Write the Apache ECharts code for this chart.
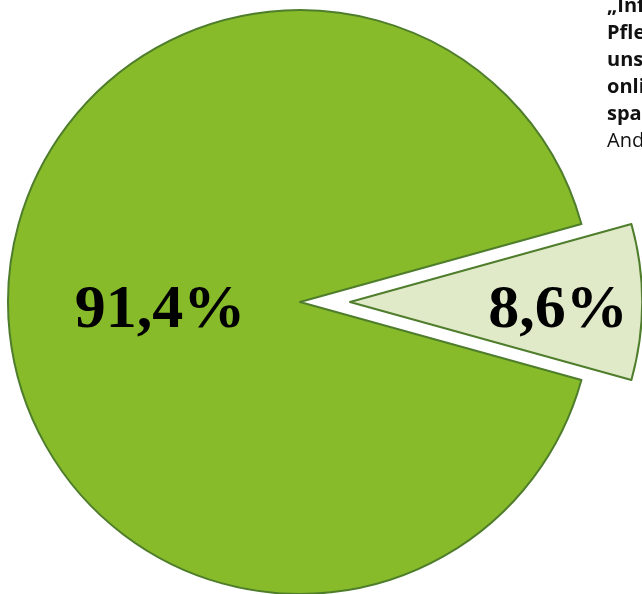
<!DOCTYPE html>
<html>
<head>
<meta charset="utf-8">
<script src="https://cdn.jsdelivr.net/npm/echarts@6/dist/echarts.min.js"></script>
<style>
html,body{margin:0;padding:0;background:#fff;}
#chart{width:642px;height:594px;}
</style>
</head>
<body>
<div id="chart"></div>
<script>
const categories = ['Ja', 'Nein'];
const values = [8.6, 91.4];
const valueLabels = ['8,6%', '91,4%'];
const sideTextLines = ['„Informationen zur', 'Pflege und Betreuung', 'unseres Hauses', 'online finde ich', 'spannend.“', 'Anderes'];

const chart = echarts.init(document.getElementById('chart'));
const startAngle = values[0] / (values[0] + values[1]) * 360 / 2;

const graphics = sideTextLines.map((t, i) => ({
  type: 'text',
  left: 607,
  top: -4 + i * 27,
  style: {
    text: t,
    fill: '#111',
    font: (i < 5 ? 'bold ' : '') + '20px "Open Sans", Inter, sans-serif'
  }
}));

const labelFont = {
  color: '#000',
  fontFamily: 'Liberation Serif, DejaVu Serif, serif',
  fontWeight: 'bold',
  fontSize: 62
};

chart.setOption({
  animation: false,
  backgroundColor: '#fff',
  graphic: graphics,
  series: [{
    type: 'pie',
    center: [300, 302],
    radius: [0, 292],
    startAngle: startAngle,
    clockwise: true,
    selectedMode: 'single',
    selectedOffset: 50,
    avoidLabelOverlap: false,
    emphasis: { disabled: true },
    itemStyle: { borderColor: '#4e7d2b', borderWidth: 2 },
    label: {
      show: true,
      position: 'inside',
      rich: {
        s: Object.assign({ padding: [18, 0, 0, 118] }, labelFont),
        b: Object.assign({ padding: [18, 0, 0, 18] }, labelFont)
      }
    },
    labelLine: { show: false },
    data: categories.map((c, i) => ({
      name: c,
      value: values[i],
      selected: i === 0,
      itemStyle: { color: i === 0 ? '#e0e9c8' : '#88bb2a' },
      label: { formatter: '{' + (i === 0 ? 's' : 'b') + '|' + valueLabels[i] + '}' }
    }))
  }]
});
</script>
</body>
</html>
